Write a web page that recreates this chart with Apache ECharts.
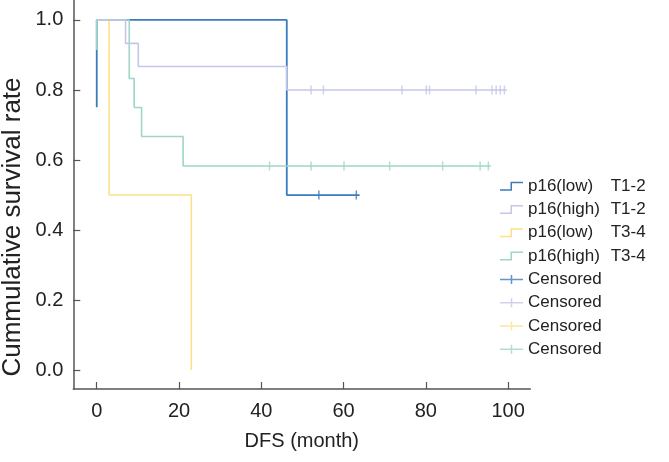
<!DOCTYPE html>
<html>
<head>
<meta charset="utf-8">
<script src="https://cdn.jsdelivr.net/npm/echarts@6/dist/echarts.min.js"></script>
<style>html,body{margin:0;padding:0;background:#fff}#c{width:669px;height:462px}</style>
</head>
<body>
<div id="c"></div>
<script>
// ---- data ----
// Kaplan-Meier step points [month, survival]
const lowT12Time  = [0, 0, 46.2, 63.9];
const lowT12Surv  = [0.751, 1, 0.5, 0.5];
const highT12Time = [0, 7.0, 10.1, 46.2, 99.7];
const highT12Surv = [1, 0.933, 0.867, 0.8, 0.8];
const lowT34Time  = [0, 3.0, 23.0];
const lowT34Surv  = [1, 0.5, 0];
const highT34Time = [0, 0, 7.9, 9.1, 10.9, 21.0, 95.8];
const highT34Surv = [0.914, 1, 0.833, 0.75, 0.667, 0.583, 0.583];
// censored observations (month) with survival level
const cenLowT12  = [54.0, 63.1];            const cenLowT12Level  = 0.5;
const cenHighT12 = [52.1, 55.1, 74.2, 80.1, 80.9, 92.2, 96.1, 97.1, 98.1, 99.1]; const cenHighT12Level = 0.8;
const cenLowT34  = [];                      const cenLowT34Level  = 0;
const cenHighT34 = [42.0, 52.1, 60.1, 71.2, 84.1, 93.2, 95.2]; const cenHighT34Level = 0.583;

const groupLabels = ['p16(low)', 'p16(high)', 'p16(low)', 'p16(high)'];
const stageLabels = ['T1-2', 'T1-2', 'T3-4', 'T3-4'];
const censoredLabel = 'Censored';
const xTicks = [0, 20, 40, 60, 80, 100];
const yTicks = [0, 0.2, 0.4, 0.6, 0.8, 1.0];
const xTitle = 'DFS (month)';
const yTitle = 'Cummulative survival rate';

// ---- styling ----
const colors = ['#3b7cbd', '#c4c7e7', '#fde087', '#9fd6c7'];
const FONT = '"Liberation Sans", Arial, Helvetica, sans-serif';
const AX = '#555';

const zip = (t, s) => t.map((v, i) => [v, s[i]]);
const curves = [zip(lowT12Time, lowT12Surv), zip(highT12Time, highT12Surv), zip(lowT34Time, lowT34Surv), zip(highT34Time, highT34Surv)];
const cens = [[cenLowT12, cenLowT12Level], [cenHighT12, cenHighT12Level], [cenLowT34, cenLowT34Level], [cenHighT34, cenHighT34Level]];

const curveNames = groupLabels.map((g, i) => g + ' ' + stageLabels[i]);
const cenNames = curveNames.map(n => censoredLabel + ' ' + n);

const zOrder = [1, 4, 2, 3];
const series = [];
curves.forEach((d, i) => {
  series.push({
    name: curveNames[i], type: 'line', step: 'end', data: d, symbol: 'none',
    lineStyle: { color: colors[i], width: i === 0 ? 1.8 : 1.6 }, itemStyle: { color: colors[i] },
    z: zOrder[i], silent: true
  });
});
cens.forEach((c, i) => {
  series.push({
    name: cenNames[i], type: 'scatter', data: c[0].map(t => [t, c[1]]),
    symbol: 'rect', symbolSize: [1.5, 9], itemStyle: { color: colors[i] }, z: zOrder[i], silent: true
  });
});

const stepIcon = 'path://M0,7.5 L10.5,7.5 L10.5,0 L23,0 L23,1.5 L12,1.5 L12,9 L0,9 Z';
const cenIcon = 'path://M0,3.75 L23,3.75 L23,5.25 L0,5.25 Z M10.75,0 L12.25,0 L12.25,9 L10.75,9 Z';

const legendData = curveNames.map(n => ({ name: n, icon: stepIcon }))
  .concat(cenNames.map(n => ({ name: n, icon: cenIcon })));

const chart = echarts.init(document.getElementById('c'));
chart.setOption({
  animation: false,
  backgroundColor: '#fff',
  color: colors,
  grid: { left: 73.3, right: 669 - 530.3, top: 0, bottom: 462 - 389, containLabel: false },
  xAxis: {
    type: 'value', min: -5.7, max: 105.4,
    name: xTitle, nameLocation: 'middle', nameGap: 42,
    nameTextStyle: { fontFamily: FONT, fontSize: 20, color: '#222' },
    axisLine: { onZero: false, lineStyle: { color: AX, width: 1.5 } },
    axisTick: { inside: true, length: 7, lineStyle: { color: AX, width: 1.2 }, customValues: xTicks },
    axisLabel: { fontFamily: FONT, fontSize: 20, color: '#222', margin: 12, customValues: xTicks },
    splitLine: { show: false }
  },
  yAxis: {
    type: 'value', min: -0.054, max: 1.057,
    axisLine: { onZero: false, lineStyle: { color: AX, width: 1.5 } },
    axisTick: { inside: true, length: 7, lineStyle: { color: AX, width: 1.2 }, customValues: yTicks },
    axisLabel: { fontFamily: FONT, fontSize: 20, color: '#222', margin: 10, customValues: yTicks,
      formatter: v => v.toFixed(1) },
    splitLine: { show: false }
  },
  graphic: [{
    type: 'text', x: 12.5, y: 227, rotation: Math.PI / 2, silent: true,
    style: { text: yTitle, fontFamily: FONT, fontSize: 26, fill: '#222', align: 'center', verticalAlign: 'middle' }
  }],
  legend: {
    orient: 'vertical', left: 500, top: 177.7, padding: 0,
    itemWidth: 23, itemHeight: 9, itemGap: 6.3,
    data: legendData, selectedMode: false,
    formatter: name => {
      const i = curveNames.indexOf(name);
      if (i >= 0) return '{a|' + groupLabels[i] + '}{b|' + stageLabels[i] + '}';
      return '{a|' + censoredLabel + '}';
    },
    textStyle: {
      fontFamily: FONT, fontSize: 17, color: '#222',
      rich: {
        a: { fontFamily: FONT, fontSize: 17, color: '#222', width: 82.7, lineHeight: 18 },
        b: { fontFamily: FONT, fontSize: 17, color: '#222', lineHeight: 18 }
      }
    }
  },
  series: series
});
</script>
</body>
</html>
